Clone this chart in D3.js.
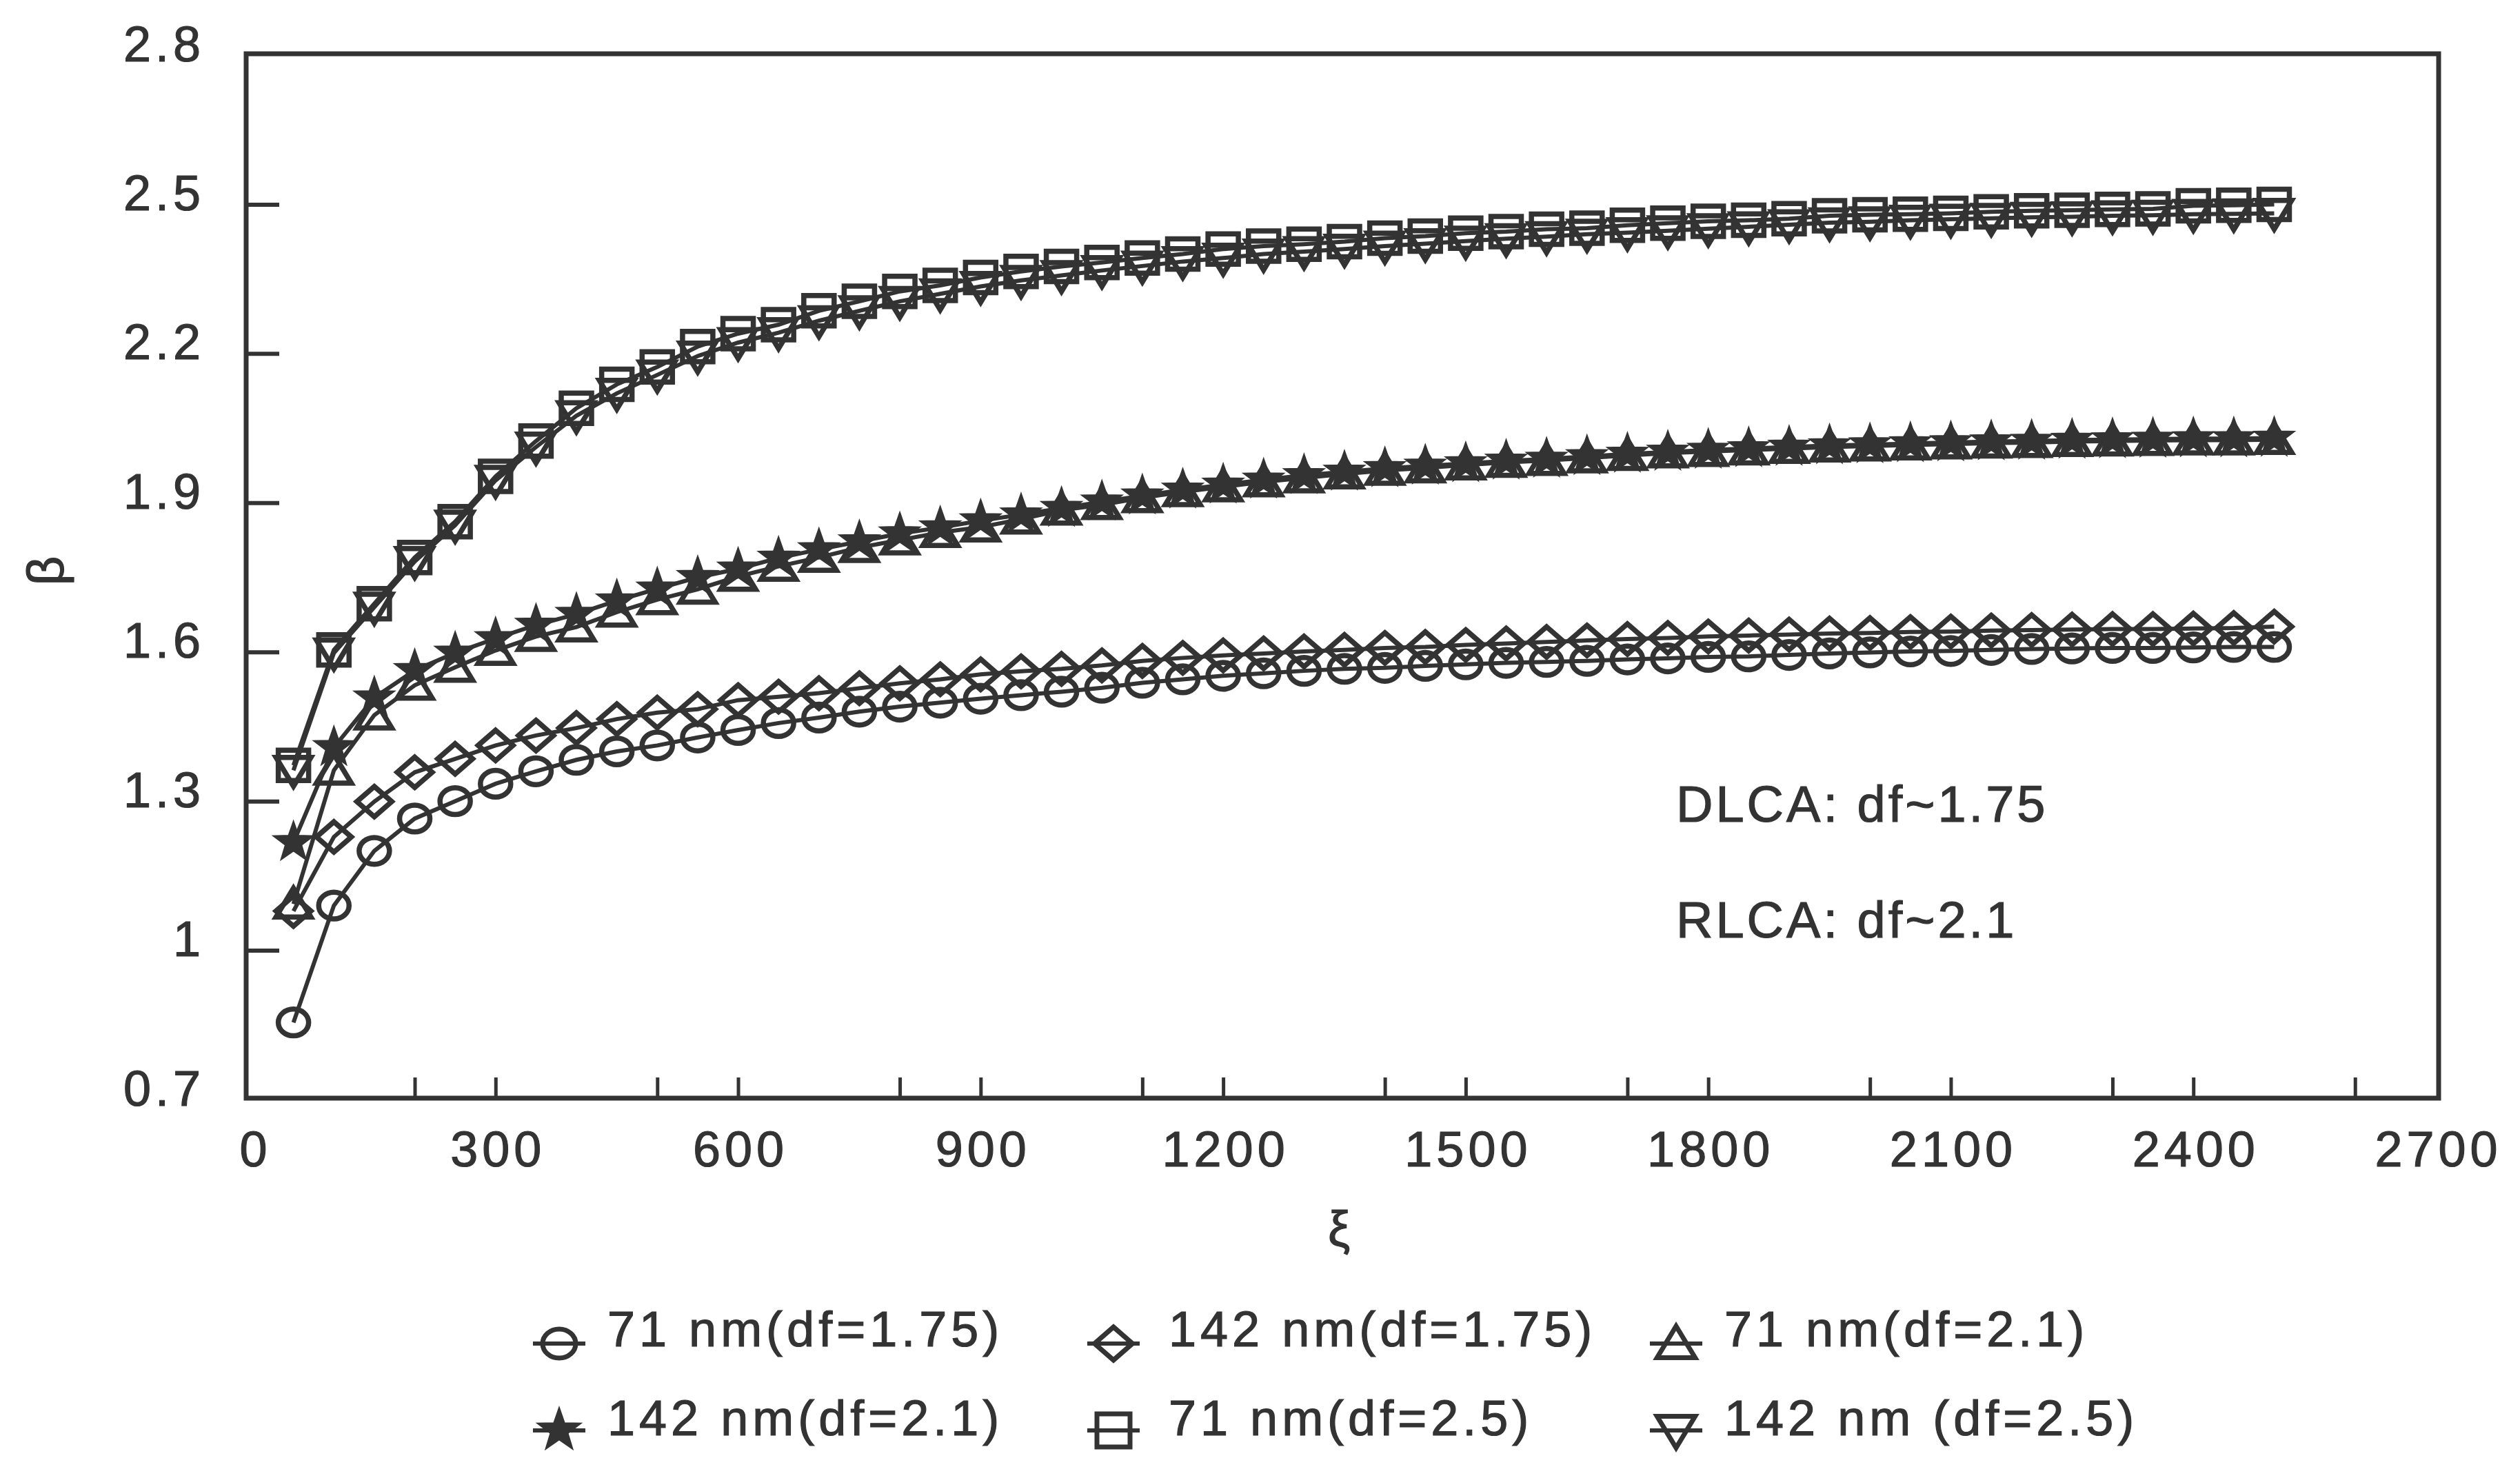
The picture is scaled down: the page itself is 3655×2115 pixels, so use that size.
<!DOCTYPE html>
<html><head><meta charset="utf-8">
<script src="https://cdn.jsdelivr.net/npm/d3@7"></script>
<style>body{margin:0;background:#fff}svg{display:block}</style>
</head><body>
<svg id="c" width="3655" height="2115"></svg>
<script>
// ---- data ----
const xi = [50,100,150,200,250,300,350,400,450,500,550,600,650,700,750,800,850,900,950,1000,
  1050,1100,1150,1200,1250,1300,1350,1400,1450,1500,1550,1600,1650,1700,1750,1800,1850,1900,1950,2000,
  2050,2100,2150,2200,2250,2300,2350,2400,2450,2500];
const beta71_175 = [0.855,1.09,1.20,1.265,1.30,1.335,1.36,1.383,1.40,1.412,1.428,1.443,1.457,1.468,1.48,1.49,1.498,1.506,1.513,1.52,
  1.528,1.538,1.545,1.552,1.557,1.562,1.566,1.568,1.572,1.575,1.578,1.58,1.582,1.585,1.587,1.59,1.591,1.594,1.597,1.599,
  1.601,1.602,1.604,1.606,1.607,1.608,1.608,1.609,1.61,1.61];
const beta142_175 = [1.079,1.228,1.299,1.358,1.385,1.412,1.432,1.447,1.465,1.478,1.485,1.503,1.51,1.517,1.527,1.537,1.545,1.555,1.561,1.566,
  1.573,1.582,1.588,1.593,1.597,1.601,1.604,1.608,1.61,1.614,1.617,1.62,1.623,1.626,1.628,1.631,1.633,1.635,1.637,1.638,
  1.64,1.641,1.643,1.644,1.645,1.646,1.646,1.647,1.648,1.651];
const beta71_21 = [1.093,1.362,1.473,1.533,1.569,1.603,1.631,1.65,1.68,1.705,1.726,1.752,1.772,1.79,1.81,1.825,1.84,1.851,1.867,1.885,
  1.896,1.91,1.922,1.932,1.942,1.95,1.958,1.965,1.97,1.976,1.981,1.985,1.99,1.995,2.0,2.003,2.006,2.009,2.012,2.014,
  2.016,2.018,2.02,2.021,2.023,2.024,2.025,2.026,2.026,2.027];
const beta142_21 = [1.217,1.408,1.508,1.563,1.598,1.627,1.654,1.676,1.703,1.727,1.75,1.767,1.789,1.806,1.822,1.838,1.85,1.864,1.876,1.889,
  1.902,1.914,1.926,1.936,1.946,1.955,1.962,1.969,1.974,1.979,1.984,1.988,1.993,1.998,2.002,2.006,2.009,2.012,2.015,2.017,
  2.019,2.021,2.023,2.024,2.026,2.027,2.028,2.029,2.029,2.03];
const beta71_25 = [1.372,1.604,1.697,1.79,1.862,1.953,2.024,2.09,2.138,2.173,2.214,2.24,2.258,2.286,2.305,2.325,2.337,2.353,2.365,2.375,
  2.383,2.392,2.40,2.41,2.416,2.42,2.425,2.432,2.436,2.442,2.445,2.45,2.452,2.458,2.462,2.466,2.468,2.471,2.477,2.479,
  2.48,2.482,2.485,2.487,2.488,2.49,2.491,2.497,2.498,2.50];
const beta142_25 = [1.362,1.598,1.69,1.782,1.855,1.945,2.012,2.075,2.12,2.157,2.195,2.222,2.242,2.266,2.286,2.305,2.32,2.335,2.347,2.357,
  2.367,2.376,2.385,2.392,2.40,2.405,2.41,2.416,2.421,2.426,2.431,2.435,2.44,2.443,2.447,2.451,2.455,2.459,2.463,2.465,
  2.468,2.47,2.472,2.474,2.475,2.477,2.478,2.48,2.481,2.482];
const seriesNames = ["71 nm(df=1.75)","142 nm(df=1.75)","71 nm(df=2.1)","142 nm(df=2.1)","71 nm(df=2.5)","142 nm (df=2.5)"];
const xTickLabels = [0,300,600,900,1200,1500,1800,2100,2400,2700];
const xTickMarks = [200,300,500,600,800,900,1100,1200,1400,1500,1700,1800,2000,2100,2300,2400,2600];
const yTickLabels = [0.7,1,1.3,1.6,1.9,2.2,2.5,2.8];
const yTickMarks = [1,1.3,1.6,1.9,2.2,2.5];
const notes = ["DLCA: df~1.75","RLCA: df~2.1"];

// ---- drawing ----
const INK = "#333333";
const FONT = "'Liberation Sans', Arial, sans-serif";
const svg = d3.select("#c");
const L = 357, R = 3537, T = 78, B = 1593;
const x = d3.scaleLinear().domain([0,2700]).range([367,3533]);
const y = d3.scaleLinear().domain([0.7,2.8]).range([B+2,T+2]);

const shapes = {
  circle: s => `M${-s},0A${s},${s*0.88} 0 1,0 ${s},0A${s},${s*0.88} 0 1,0 ${-s},0Z`,
  diamond: s => `M0,${-s}L${s*1.15},0L0,${s}L${-s*1.15},0Z`,
  triUp: s => `M0,${-s*1.05}L${s*1.15},${s*0.85}L${-s*1.15},${s*0.85}Z`,
  triDown: s => `M0,${s*1.05}L${s*1.15},${-s*0.85}L${-s*1.15},${-s*0.85}Z`,
  square: s => `M${-s},${-s}H${s}V${s}H${-s}Z`,
  star: s => { let p=""; for(let i=0;i<10;i++){const r=i%2?s*0.5:s*1.25; const a=-Math.PI/2+i*Math.PI/5; p+=(i?"L":"M")+(r*Math.cos(a)).toFixed(2)+","+(r*Math.sin(a)).toFixed(2);} return p+"Z"; }
};
const series = [
  {vals:beta71_175, shape:"circle", fill:false},
  {vals:beta142_175, shape:"diamond", fill:false},
  {vals:beta71_21, shape:"triUp", fill:false},
  {vals:beta142_21, shape:"star", fill:true},
  {vals:beta71_25, shape:"square", fill:false},
  {vals:beta142_25, shape:"triDown", fill:false}
];

// frame
svg.append("rect").attr("x",L).attr("y",T).attr("width",R-L).attr("height",B-T)
  .attr("fill","none").attr("stroke",INK).attr("stroke-width",7);

// tick marks
const gx = svg.append("g").attr("transform",`translate(0,${B})`)
  .call(d3.axisBottom(x).tickValues(xTickMarks).tickSize(-30).tickFormat(""));
gx.select(".domain").remove();
gx.selectAll("line").attr("stroke",INK).attr("stroke-width",5);
const gy = svg.append("g").attr("transform",`translate(${L},0)`)
  .call(d3.axisLeft(y).tickValues(yTickMarks).tickSize(-48).tickFormat(""));
gy.select(".domain").remove();
gy.selectAll("line").attr("stroke",INK).attr("stroke-width",6);

function styleText(sel, size, ls){
  sel.attr("font-family",FONT).attr("font-size",size).attr("fill",INK)
     .attr("stroke",INK).attr("stroke-width",1.2).attr("letter-spacing",ls);
}
// tick labels
const gxl = svg.append("g").attr("transform",`translate(0,${B})`)
  .call(d3.axisBottom(x).tickValues(xTickLabels).tickSize(0).tickPadding(48).tickFormat(d3.format("d")));
gxl.select(".domain").remove();
styleText(gxl.selectAll("text"),72,6); gxl.selectAll("text").attr("dx",3);
const gyl = svg.append("g").attr("transform",`translate(${L},0)`)
  .call(d3.axisLeft(y).tickValues(yTickLabels).tickSize(0).tickPadding(60).tickFormat(d=>String(d)));
gyl.select(".domain").remove();
styleText(gyl.selectAll("text"),72,6); gyl.selectAll("text").attr("y",-15);

// axis titles
styleText(svg.append("text").attr("x",1942).attr("y",1808).attr("text-anchor","middle").text("ξ"),72,0);
styleText(svg.append("text").attr("transform","translate(92,828) rotate(-90)").attr("text-anchor","middle").text("β"),74,0);

// series
const line = d3.line().x((d,i)=>x(xi[i])).y(d=>y(d));
series.forEach(s=>{
  svg.append("path").attr("d",line(s.vals)).attr("fill","none").attr("stroke",INK).attr("stroke-width",6);
});
series.forEach(s=>{
  svg.append("g").selectAll("path").data(s.vals).join("path")
    .attr("transform",(d,i)=>`translate(${x(xi[i])},${y(d)})`)
    .attr("d",shapes[s.shape](22))
    .attr("fill",s.fill?INK:"none").attr("stroke",INK).attr("stroke-width",s.fill?4:7.5)
    .attr("stroke-linejoin","miter");
});

// annotations
notes.forEach((t,i)=>{
  styleText(svg.append("text").attr("x",2431).attr("y",1192+i*168).text(t),74,4);
});

// legend
const legX = [811,1615,2431], legTX = [881,1695,2501];
const legMY = [1949,2075], legTY = [1953,2082];
series.forEach((s,i)=>{
  const col=i%3, row=Math.floor(i/3);
  const g = svg.append("g");
  g.append("line").attr("x1",legX[col]-38).attr("x2",legX[col]+38).attr("y1",legMY[row]).attr("y2",legMY[row])
    .attr("stroke",INK).attr("stroke-width",6);
  g.append("path").attr("transform",`translate(${legX[col]},${legMY[row]})`).attr("d",shapes[s.shape](24))
    .attr("fill",s.fill?INK:"none").attr("stroke",INK).attr("stroke-width",s.fill?4:7);
  styleText(g.append("text").attr("x",legTX[col]).attr("y",legTY[row]).text(seriesNames[i]),72,6);
});
</script>
</body></html>
